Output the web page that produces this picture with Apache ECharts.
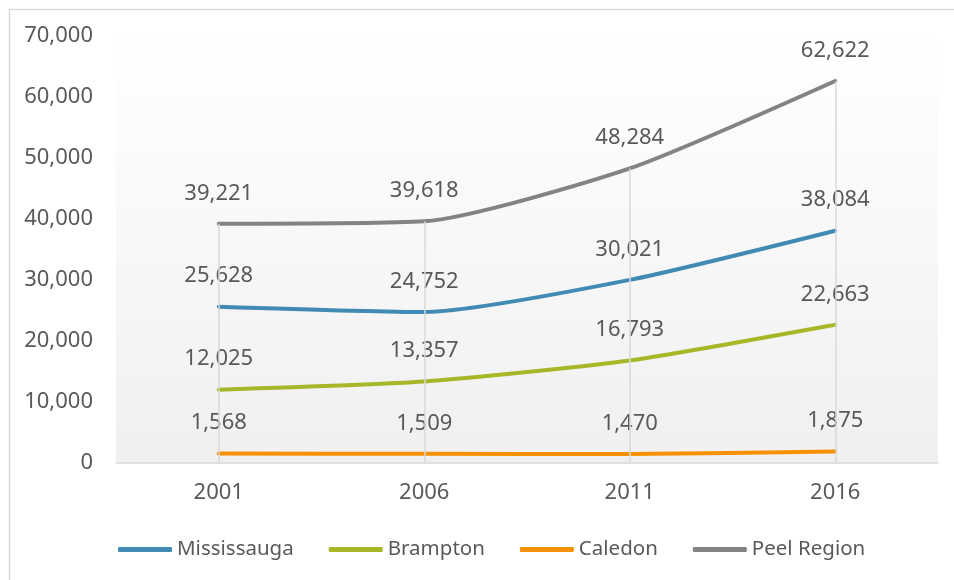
<!DOCTYPE html>
<html>
<head>
<meta charset="utf-8">
<script src="https://cdn.jsdelivr.net/npm/echarts@6/dist/echarts.min.js"></script>
<style>html,body{margin:0;padding:0;background:#fff}#c{width:954px;height:580px}</style>
</head>
<body>
<div id="c"></div>
<script>
var years = ['2001', '2006', '2011', '2016'];
var mississauga = [25628, 24752, 30021, 38084];
var brampton = [12025, 13357, 16793, 22663];
var caledon = [1568, 1509, 1470, 1875];
var peel = [39221, 39618, 48284, 62622];
var yTicks = { min: 0, max: 70000, interval: 10000 };

var FONT = '"Noto Sans", "Open Sans", sans-serif';
var TXT = '#595959';
var chart = echarts.init(document.getElementById('c'), null, { renderer: 'canvas' });

function lineSeries(name, data, color) {
  return {
    name: name, type: 'line', data: data, z: 3,
    smooth: 0.2, symbol: 'circle', symbolSize: 1, showSymbol: true,
    lineStyle: { color: color, width: 4, cap: 'round' },
    itemStyle: { color: color },
    label: {
      show: true, position: 'top', distance: 19,
      color: TXT, fontFamily: FONT, fontSize: 22,
      formatter: function (p) { return p.value.toLocaleString('en-US'); }
    }
  };
}

var dropData = peel.map(function (v, i) {
  return [{ coord: [i, v] }, { coord: [i, 0] }];
});

chart.setOption({
  animation: false,
  backgroundColor: '#fff',
  graphic: [{
    type: 'rect', left: 7, top: 7, z: 0, silent: true,
    shape: { width: 980, height: 620 },
    style: { fill: 'none', stroke: '#d9d9d9', lineWidth: 1.5 }
  }],
  grid: {
    left: 116, right: 16, top: 36, bottom: 117, show: true, borderWidth: 0,
    backgroundColor: new echarts.graphic.LinearGradient(0, 0, 0, 1, [
      { offset: 0, color: '#ffffff' }, { offset: 1, color: '#f0f0f0' }
    ])
  },
  legend: {
    left: 113, top: 534, itemWidth: 54, itemHeight: 5, itemGap: 35,
    icon: 'roundRect',
    data: ['Mississauga', 'Brampton', 'Caledon', 'Peel Region'],
    textStyle: { color: TXT, fontFamily: FONT, fontSize: 20.5 }
  },
  xAxis: {
    type: 'category', data: years, boundaryGap: true,
    axisLine: { lineStyle: { color: '#d9d9d9', width: 1.5 } },
    axisTick: { show: false },
    axisLabel: { color: TXT, fontFamily: FONT, fontSize: 22, margin: 19 },
    splitLine: { show: false }
  },
  yAxis: {
    type: 'value', min: yTicks.min, max: yTicks.max, interval: yTicks.interval,
    axisLine: { show: false }, axisTick: { show: false },
    splitLine: { show: false },
    axisLabel: {
      color: TXT, fontFamily: FONT, fontSize: 22, margin: 23,
      formatter: function (v) { return v.toLocaleString('en-US'); }
    }
  },
  series: [
    {
      name: '_drop', type: 'line', data: [], z: 1, silent: true,
      markLine: {
        silent: true, symbol: 'none', label: { show: false },
        lineStyle: { color: '#d9d9d9', width: 1.5, type: 'solid' },
        data: dropData
      }
    },
    lineSeries('Mississauga', mississauga, '#418ab3'),
    lineSeries('Brampton', brampton, '#a6b727'),
    lineSeries('Caledon', caledon, '#f59100'),
    lineSeries('Peel Region', peel, '#838383')
  ]
});
</script>
</body>
</html>
